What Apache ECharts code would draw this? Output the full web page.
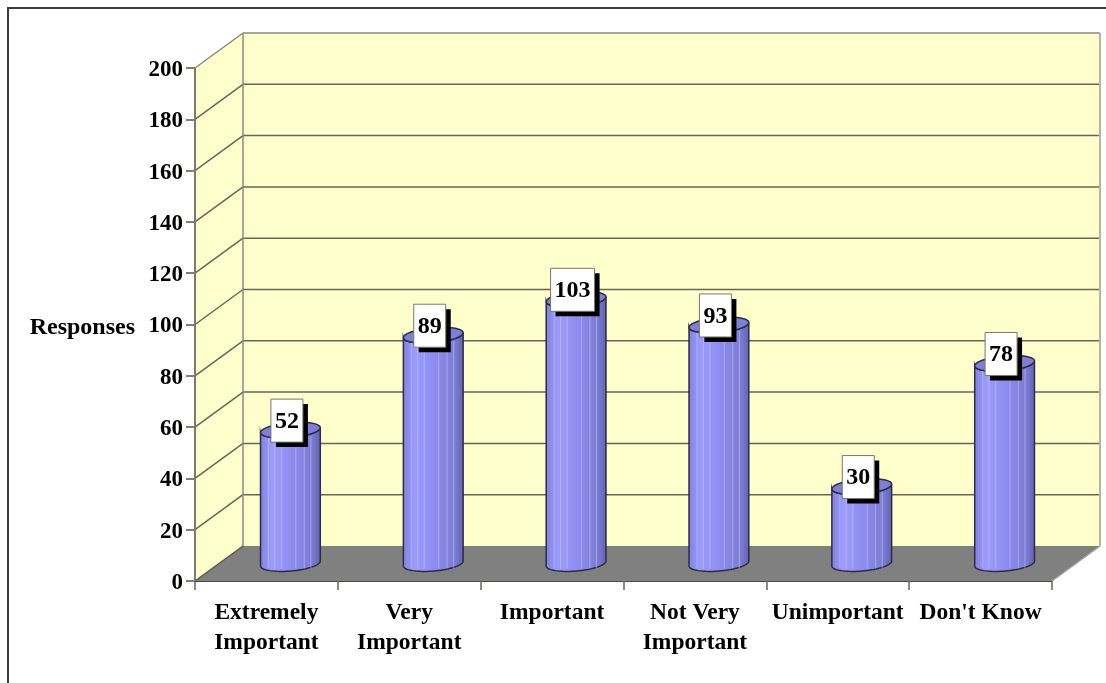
<!DOCTYPE html>
<html>
<head>
<meta charset="utf-8">
<style>html,body{margin:0;padding:0;background:#fff}#chart{width:1106px;height:683px}</style>
<script src="https://cdn.jsdelivr.net/npm/echarts@6/dist/echarts.min.js"></script>
</head>
<body>
<div id="chart"></div>
<script>
// Survey responses per importance rating
const categories = ['Extremely\nImportant', 'Very\nImportant', 'Important', 'Not Very\nImportant', 'Unimportant', "Don't Know"];
const responses = [52, 89, 103, 93, 30, 78];
const valueTicks = [20, 40, 60, 80, 100, 120, 140, 160, 180, 200];

// Oblique projection of the chart box
const DEPTH_X = 48, DEPTH_Y = -35;
const RADIUS_X = 30, RADIUS_Y = 7.5, TILT = -5 * Math.PI / 180;
const SERIF = '"Liberation Serif", "Times New Roman", serif';
const STRIPES = [0.135, 0.24, 0.35, 0.59, 0.73, 0.84];

function line(x1, y1, x2, y2, stroke, lineWidth) {
  return { type: 'line', shape: { x1, y1, x2, y2 }, style: { stroke, lineWidth, fill: null } };
}
function poly(points, fill) {
  return { type: 'polygon', shape: { points }, style: { fill, stroke: null } };
}

// Back wall, side wall, floor and their gridlines
function renderBox(params, api) {
  const x0 = params.coordSys.x, x1 = x0 + params.coordSys.width;
  const yBase = api.coord([0, 0])[1], yTop = api.coord([0, 200])[1];
  const dx = DEPTH_X, dy = DEPTH_Y;
  const wall = '#FFFFCC', floor = '#808080', edge = '#7a7a72';
  const children = [
    poly([[x0 + dx, yTop + dy], [x1 + dx, yTop + dy], [x1 + dx, yBase + dy], [x0 + dx, yBase + dy]], wall),
    poly([[x0, yTop], [x0 + dx, yTop + dy], [x0 + dx, yBase + dy], [x0, yBase]], wall),
    poly([[x0, yBase], [x0 + dx, yBase + dy], [x1 + dx, yBase + dy], [x1, yBase]], floor)
  ];
  valueTicks.forEach(function (v) {
    const y = api.coord([0, v])[1];
    const c = v === 200 ? '#8a8a80' : '#66665c';
    children.push(line(x0, y, x0 + dx, y + dy, c, 1.5));
    children.push(line(x0 + dx, y + dy, x1 + dx, y + dy, c, 1.5));
  });
  children.push(line(x0 + dx, yTop + dy, x0 + dx, yBase + dy, '#8a8a80', 1.5));
  children.push(line(x1 + dx, yTop + dy, x1 + dx, yBase + dy, '#b4b4a8', 2));
  children.push(line(x0, yBase, x0 + dx, yBase + dy, '#5a5a52', 1.5));
  children.push(line(x1, yBase, x1 + dx, yBase + dy, '#a0a0a0', 1.5));
  children.push(line(x0, yTop, x0, yBase, edge, 2));
  return { type: 'group', children };
}

// Point on the tilted ellipse capping a cylinder
function ellipsePoint(cx, cy, t) {
  const ex = RADIUS_X * Math.cos(t), ey = RADIUS_Y * Math.sin(t);
  return [cx + ex * Math.cos(TILT) - ey * Math.sin(TILT), cy + ex * Math.sin(TILT) + ey * Math.cos(TILT)];
}
function halfEllipse(cx, cy, from, to) {
  const pts = [];
  for (let i = 0; i <= 40; i++) pts.push(ellipsePoint(cx, cy, from + (to - from) * i / 40));
  return pts;
}

// One cylinder with its value tag
function renderCylinder(params, api) {
  const value = api.value(1);
  const front = api.coord([api.value(0), value]);
  const base = api.coord([api.value(0), 0]);
  const cx = front[0] + DEPTH_X / 2;
  const top = front[1] + DEPTH_Y / 2;
  const bot = base[1] + DEPTH_Y / 2;
  const outline = '#2c2c44';

  // Outline runs down the left, round the bottom, up the right, back over the cap's front
  const pts = [].concat(halfEllipse(cx, bot, Math.PI, 0), halfEllipse(cx, top, 0, Math.PI));
  const body = {
    type: 'polygon',
    shape: { points: pts },
    style: {
      fill: {
        type: 'linear', x: 0, y: 0, x2: 1, y2: 0,
        colorStops: [
          { offset: 0, color: '#8080dc' },
          { offset: 0.2, color: '#9c9cff' },
          { offset: 0.55, color: '#8c8cee' },
          { offset: 0.85, color: '#7c7cd4' },
          { offset: 1, color: '#6262b0' }
        ]
      },
      stroke: outline, lineWidth: 1.5
    }
  };
  const children = [body];
  STRIPES.forEach(function (f) {
    const x = cx - RADIUS_X + f * 2 * RADIUS_X;
    children.push(line(x, top + 6, x, bot + 5, 'rgba(205,205,255,0.5)', 1));
  });
  children.push({
    type: 'polygon',
    shape: { points: halfEllipse(cx, top, 0, 2 * Math.PI) },
    style: { fill: '#7f7fd8', stroke: outline, lineWidth: 1.5 }
  });

  // Value tag with hard drop shadow
  const text = String(value);
  const w = text.length > 2 ? 44 : 32, h = 43;
  const bx = cx - 3.5 - w / 2, by = top - 9.5 - h / 2;
  children.push({ type: 'rect', shape: { x: bx + 5, y: by + 5, width: w, height: h }, style: { fill: '#000' } });
  children.push({ type: 'rect', shape: { x: bx, y: by, width: w, height: h }, style: { fill: '#fff', stroke: '#77776c', lineWidth: 1 } });
  children.push({
    type: 'text',
    style: { x: bx + w / 2, y: by + h / 2 + 1, text, fill: '#000', align: 'center', verticalAlign: 'middle', font: 'bold 24px ' + SERIF }
  });
  return { type: 'group', children };
}

const chart = echarts.init(document.getElementById('chart'), null, { renderer: 'canvas' });
chart.setOption({
  animation: false,
  backgroundColor: '#fff',
  grid: { left: 195, top: 68, width: 857, height: 513, containLabel: false, outerBoundsMode: 'none' },
  graphic: [{
    type: 'polyline',
    shape: { points: [[8, 683], [8, 8], [1106, 8]] },
    style: { stroke: '#3c3c3c', lineWidth: 2, fill: null }
  }],
  xAxis: {
    type: 'category',
    data: categories,
    boundaryGap: true,
    axisLine: { show: true, onZero: false, lineStyle: { color: '#111', width: 1.5 } },
    axisTick: { show: true, alignWithLabel: false, length: 9, lineStyle: { color: '#66665c', width: 1.5 } },
    axisLabel: {
      interval: 0, margin: 17, color: '#000', fontFamily: SERIF, fontWeight: 'bold',
      fontSize: 23.5, lineHeight: 30
    }
  },
  yAxis: {
    type: 'value',
    min: 0, max: 200, interval: 20,
    name: 'Responses',
    nameLocation: 'middle',
    nameRotate: 0,
    nameGap: 60,
    nameTextStyle: { color: '#000', fontFamily: SERIF, fontWeight: 'bold', fontSize: 24, verticalAlign: 'top', lineHeight: 6 },
    axisLine: { show: false },
    axisTick: { show: true, length: 9, lineStyle: { color: '#55554c', width: 1.5 } },
    axisLabel: { margin: 12, color: '#000', fontFamily: SERIF, fontWeight: 'bold', fontSize: 23, verticalAlign: 'top', lineHeight: 4 },
    splitLine: { show: false }
  },
  series: [
    { type: 'custom', name: 'box', z: 1, silent: true, renderItem: renderBox, data: [[0, 0]], clip: false },
    {
      type: 'custom', name: 'Responses', z: 3, renderItem: renderCylinder, clip: false,
      encode: { x: 0, y: 1 },
      data: responses.map(function (v, i) { return [i, v]; })
    }
  ]
});
</script>
</body>
</html>
